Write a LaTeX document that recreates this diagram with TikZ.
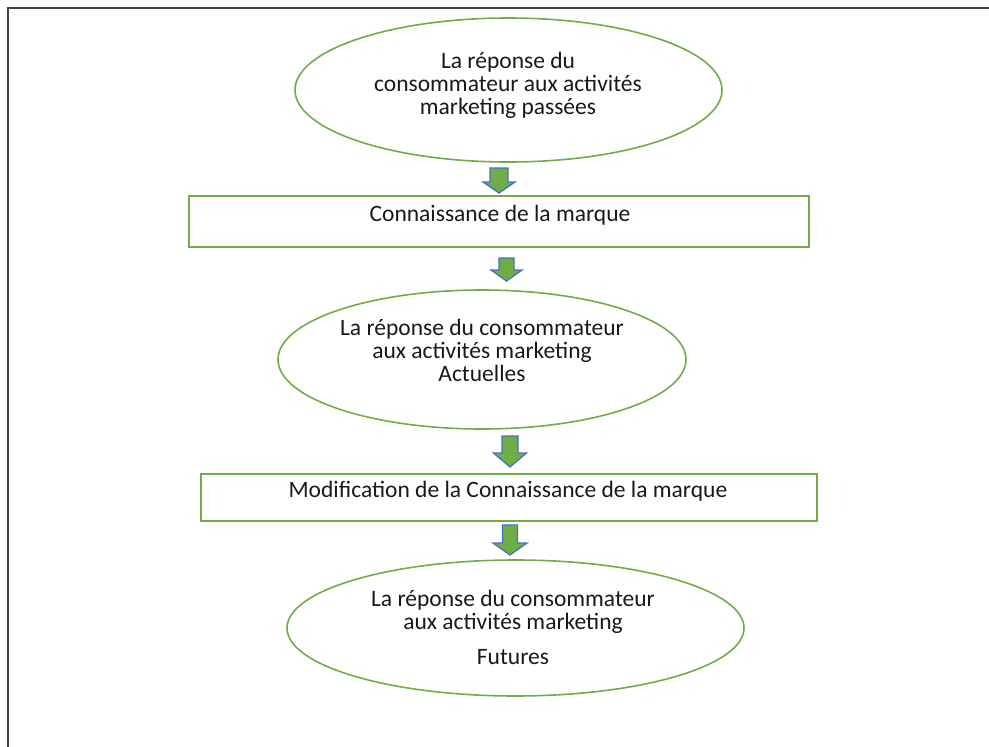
\documentclass[tikz,border=0pt]{standalone}
\usepackage{fontspec}
\setmainfont{Carlito}
\usetikzlibrary{shapes.geometric}
\definecolor{boxgreen}{HTML}{70AD47}
\definecolor{arrowblue}{HTML}{4472C4}
\definecolor{framegray}{HTML}{444444}
\tikzset{
  oval/.style={ellipse, draw=boxgreen, line width=1.6pt, inner sep=0pt},
  stepbox/.style={rectangle, draw=boxgreen, line width=1.6pt, inner sep=0pt},
  label text/.style={align=center, inner sep=0pt, text=black!90, font=\fontsize{23.5}{23}\selectfont},
  blockarrow/.style={fill=boxgreen, draw=arrowblue, line width=1.3pt, line join=miter},
}
% block arrow pointing down: centre x, top, start of head, tip, shaft half width, head half width
\newcommand\downblock[6]{%
  \draw[blockarrow] (#1-#5,#2) -- (#1+#5,#2) -- (#1+#5,#3) -- (#1+#6,#3)
    -- (#1,#4) -- (#1-#6,#3) -- (#1-#5,#3) -- cycle;}
\begin{document}
\begin{tikzpicture}[x=1pt,y=-1pt]
\useasboundingbox (0,0) rectangle (989,747);
% page frame (runs off the right and bottom edges)
\draw[framegray, line width=2pt] (8,760) -- (8,8) -- (1000,8);

% shapes
\node[oval, minimum width=427pt, minimum height=144pt] (e1) at (508.5,90) {};
\node[stepbox, minimum width=620pt, minimum height=51pt] (r1) at (499,221.5) {};
\node[oval, minimum width=408pt, minimum height=139pt] (e2) at (482,359.5) {};
\node[stepbox, minimum width=616pt, minimum height=47pt] (r2) at (509,497.5) {};
\node[oval, minimum width=457pt, minimum height=136pt] (e3) at (515.5,628) {};

% texts
\node[label text] (t1) at (508,85) {La réponse du\\consommateur aux activités\\marketing passées};
\node[label text] (t2) at (500,215) {Connaissance de la marque};
\node[label text] (t3) at (482,350) {La réponse du consommateur\\aux activités marketing\\Actuelles};
\node[label text] (t4) at (508,491) {Modification de la Connaissance de la marque};
\node[label text] (t5) at (513,612) {La réponse du consommateur\\aux activités marketing};
\node[label text] (t6) at (513,657) {Futures};

% block arrows between the steps
\downblock{499}{168}{182}{193}{9}{16}
\downblock{506.5}{258}{270}{281}{7.5}{15.5}
\downblock{510}{436}{453}{467}{8}{16.5}
\downblock{510}{525}{543}{555}{7.5}{17}
\end{tikzpicture}
\end{document}
